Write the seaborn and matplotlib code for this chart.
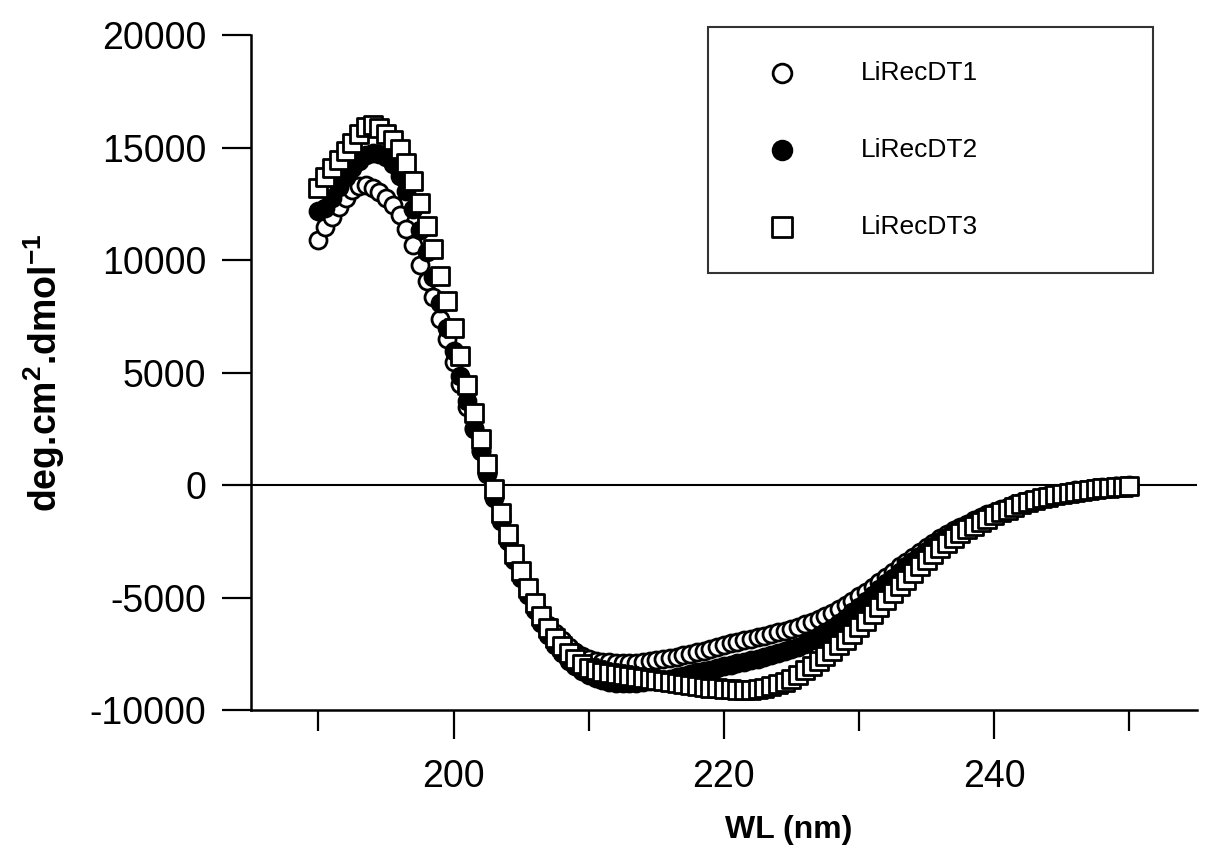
import numpy as np
import pandas as pd
import matplotlib
matplotlib.use("Agg")
import matplotlib.pyplot as plt
import seaborn as sns

# Wavelength grid (nm), 0.5 nm steps
wavelength = np.arange(190, 250.5, 0.5)

# Mean residue ellipticity (deg.cm2.dmol-1)
lirecdt1 = [
    10900, 11450, 11900, 12350, 12750, 13100, 13300, 13320, 13200, 13020,   # 190-194.5
    12760, 12430, 11990, 11400, 10650, 9800, 9050, 8340, 7400, 6480,       # 195-199.5
    5460, 4480, 3460, 2480, 1500, 540, -420, -1350, -2250, -3100,           # 200-204.5
    -3880, -4600, -5250, -5750, -6200, -6580, -6900, -7180, -7420, -7600,   # 205-209.5
    -7720, -7800, -7850, -7880, -7900, -7900, -7900, -7890, -7860, -7830,   # 210-214.5
    -7790, -7740, -7690, -7630, -7570, -7510, -7440, -7360, -7280, -7200,   # 215-219.5
    -7120, -7040, -6970, -6900, -6830, -6760, -6690, -6620, -6550, -6480,   # 220-224.5
    -6400, -6300, -6190, -6080, -5960, -5830, -5680, -5520, -5340, -5150,   # 225-229.5
    -4950, -4740, -4520, -4300, -4080, -3850, -3620, -3400, -3180, -2960,   # 230-234.5
    -2760, -2560, -2370, -2190, -2020, -1860, -1710, -1570, -1430, -1300,   # 235-239.5
    -1180, -1070, -960, -860, -770, -680, -600, -530, -460, -400,           # 240-244.5
    -340, -290, -240, -200, -160, -130, -100, -80, -60, -40,                # 245-249.5
    -20,                                                                    # 250
]
lirecdt2 = [
    12200, 12300, 12750, 13250, 13700, 14100, 14420, 14650, 14750, 14720,
    14560, 14250, 13750, 13050, 12250, 11350, 10350, 9250, 8080, 7000,
    5960, 4850, 3740, 2540, 1510, 490, -560, -1600, -2500, -3350,
    -4150, -4900, -5550, -6150, -6650, -7100, -7480, -7800, -8060, -8280,
    -8450, -8580, -8680, -8740, -8780, -8800, -8800, -8780, -8760, -8730,
    -8700, -8660, -8610, -8550, -8480, -8400, -8330, -8260, -8200, -8130,
    -8060, -7990, -7920, -7850, -7780, -7710, -7640, -7560, -7480, -7390,
    -7290, -7180, -7050, -6900, -6730, -6540, -6340, -6120, -5890, -5650,
    -5400, -5150, -4890, -4630, -4370, -4110, -3860, -3610, -3370, -3140,
    -2920, -2710, -2500, -2310, -2120, -1950, -1790, -1640, -1500, -1360,
    -1230, -1110, -1000, -900, -800, -710, -630, -550, -480, -420,
    -360, -300, -250, -210, -170, -140, -110, -80, -60, -40,
    -30,
]
lirecdt3 = [
    13200, 13700, 14100, 14460, 14860, 15220, 15600, 15900, 15980, 15850,
    15600, 15330, 14950, 14330, 13530, 12550, 11530, 10500, 9300, 8190,
    6990, 5740, 4450, 3200, 2050, 935, -180, -1250, -2180, -3070,
    -3830, -4580, -5250, -5830, -6360, -6800, -7160, -7480, -7740, -7970,
    -8140, -8230, -8320, -8370, -8410, -8450, -8500, -8540, -8580, -8620,
    -8660, -8700, -8740, -8790, -8830, -8880, -8920, -8960, -9000, -9030,
    -9060, -9080, -9100, -9100, -9090, -9060, -9010, -8950, -8860, -8740,
    -8600, -8430, -8240, -8050, -7840, -7620, -7380, -7130, -6870, -6600,
    -6320, -6030, -5730, -5430, -5120, -4810, -4500, -4200, -3900, -3610,
    -3330, -3060, -2800, -2560, -2340, -2140, -1960, -1800, -1650, -1490,
    -1340, -1210, -1090, -970, -860, -760, -670, -590, -520, -460,
    -400, -350, -300, -260, -220, -180, -150, -120, -100, -70,
    -50,
]

series_names = ["LiRecDT1", "LiRecDT2", "LiRecDT3"]
x_major = [200, 220, 240]
x_minor = [190, 210, 230, 250]
y_ticks = [-10000, -5000, 0, 5000, 10000, 15000, 20000]

sns.set_theme(style="white")
plt.rcParams["font.family"] = ["Liberation Sans", "DejaVu Sans"]
plt.rcParams["mathtext.fontset"] = "custom"
plt.rcParams["mathtext.bf"] = "Liberation Sans:bold"
plt.rcParams["mathtext.rm"] = "Liberation Sans"
plt.rcParams["text.color"] = "black"
plt.rcParams["axes.labelcolor"] = "black"
plt.rcParams["xtick.color"] = "black"
plt.rcParams["ytick.color"] = "black"

fig = plt.figure(figsize=(12.18, 8.57), dpi=100)
ax = fig.add_axes([0.206, 0.1715, 0.7767, 0.7876])

styles = [
    dict(marker="o", facecolor="white", edgecolor="black", s=150),
    dict(marker="o", facecolor="black", edgecolor="black", s=150),
    dict(marker="s", facecolor="white", edgecolor="black", s=160),
]
for name, vals, st in zip(series_names, [lirecdt1, lirecdt2, lirecdt3], styles):
    df = pd.DataFrame({"wl": wavelength, "val": vals})
    sns.scatterplot(data=df, x="wl", y="val", ax=ax, marker=st["marker"],
                    facecolor=st["facecolor"], edgecolor=st["edgecolor"],
                    s=st["s"], linewidth=2.0, label=name, zorder=3)

ax.axhline(0, color="black", lw=1.5, zorder=2)

ax.set_xlim(185, 255)
ax.set_ylim(-10000, 20000)
ax.set_xticks(x_major)
ax.set_xticks(x_minor, minor=True)
ax.set_yticks(y_ticks)
ax.set_yticklabels([str(v) for v in y_ticks])
ax.set_xticklabels([str(v) for v in x_major])

for side in ["top", "right"]:
    ax.spines[side].set_visible(False)
for side in ["left", "bottom"]:
    ax.spines[side].set_color("black")
    ax.spines[side].set_linewidth(1.8)

ax.tick_params(axis="both", which="major", direction="out", length=21,
               width=1.6, color="black", labelsize=27, labelcolor="black",
               bottom=True, left=True)
ax.tick_params(axis="x", which="major", pad=14)
ax.tick_params(axis="y", which="major", pad=11)
ax.tick_params(axis="x", which="minor", direction="out", length=15,
               width=1.6, color="black", bottom=True)

ax.set_xlabel("WL (nm)", fontsize=23, fontweight="bold", labelpad=10,
              color="black")
ax.xaxis.set_label_coords(0.568, -0.155)
ax.set_ylabel(r"deg.cm$^{\mathbf{2}}$.dmol$^{\mathbf{-1}}$", fontsize=27,
              fontweight="bold", labelpad=16, color="black")

leg = ax.legend(loc="upper left",
                bbox_to_anchor=(708 / 1218, 1 - 27 / 857, 445 / 1218, 0.0),
                bbox_transform=fig.transFigure, mode="expand",
                fontsize=19, frameon=True, fancybox=False, borderpad=1.3,
                labelspacing=2.0, handlelength=3.0, handletextpad=1.5,
                borderaxespad=0.0, scatterpoints=1, markerscale=1.1)
leg.get_frame().set_edgecolor("black")
leg.get_frame().set_linewidth(1.5)
leg.get_frame().set_facecolor("white")
for t in leg.get_texts():
    t.set_color("black")

fig.savefig("out.png", dpi=100, facecolor="white")
